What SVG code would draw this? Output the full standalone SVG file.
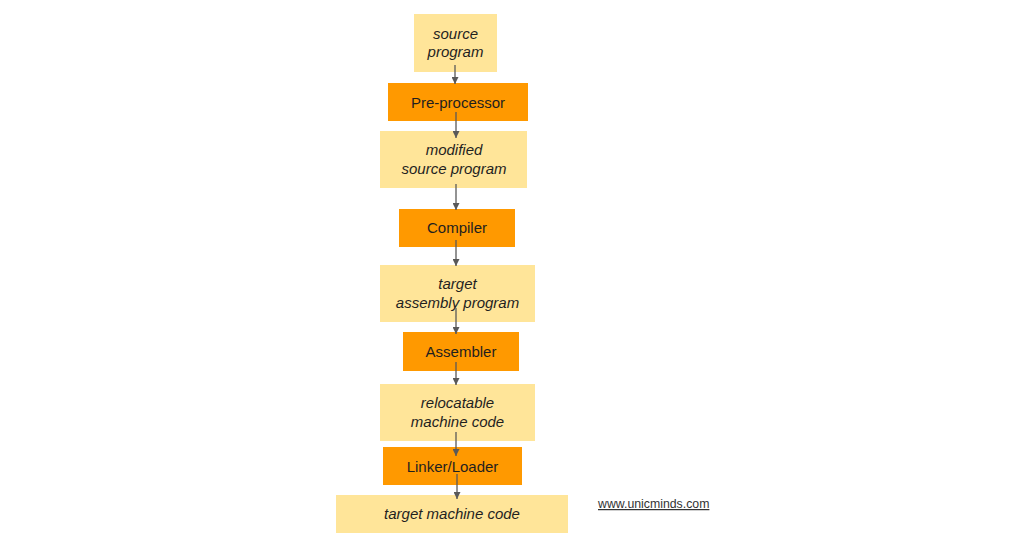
<svg xmlns="http://www.w3.org/2000/svg" width="1024" height="539" viewBox="0 0 1024 539">
<style>
.data{fill:#ffe599}
.proc{fill:#ff9900}
text{font-family:"Liberation Sans",Arial,sans-serif;font-size:15px;fill:#1f1f1f;text-anchor:middle}
.it{font-style:italic}
.edge{stroke:#595959;stroke-width:1.3;fill:none;marker-end:url(#ah)}
.url{font-size:12.3px;text-anchor:start;fill:#333;text-decoration:underline}
</style>
<defs>
<marker id="ah" viewBox="0 0 10 10" refX="10" refY="5" markerWidth="7" markerHeight="7" markerUnits="userSpaceOnUse" orient="auto">
<path d="M0,0 L10,5 L0,10 z" fill="#595959"/>
</marker>
</defs>
<rect width="1024" height="539" fill="#ffffff"/>
<g id="source-program"><rect class="data" x="414" y="14" width="83" height="58"/><text class="it" x="455.5" y="39">source</text><text class="it" x="455.5" y="57">program</text></g>
<g id="pre-processor"><rect class="proc" x="388" y="83" width="140" height="38"/><text x="458" y="108">Pre-processor</text></g>
<g id="modified-source"><rect class="data" x="380" y="131" width="147" height="57"/><text class="it" x="454" y="155">modified</text><text class="it" x="454" y="174">source program</text></g>
<g id="compiler"><rect class="proc" x="399" y="209" width="116" height="38"/><text x="457" y="233">Compiler</text></g>
<g id="target-assembly"><rect class="data" x="380" y="265" width="155" height="57"/><text class="it" x="457.5" y="289">target</text><text class="it" x="457.5" y="308">assembly program</text></g>
<g id="assembler"><rect class="proc" x="403" y="332" width="116" height="39"/><text x="461" y="357">Assembler</text></g>
<g id="relocatable"><rect class="data" x="380" y="384" width="155" height="57"/><text class="it" x="457.5" y="408">relocatable</text><text class="it" x="457.5" y="427">machine code</text></g>
<g id="linker-loader"><rect class="proc" x="383" y="447" width="139" height="38"/><text x="452.5" y="472">Linker/Loader</text></g>
<g id="target-machine"><rect class="data" x="336" y="495" width="232" height="38"/><text class="it" x="452" y="519">target machine code</text></g>
<g id="connectors">
<path class="edge" d="M455,65 L455,84"/>
<path class="edge" d="M456,112 L456,138"/>
<path class="edge" d="M456,184 L456,210"/>
<path class="edge" d="M456,240 L456,266"/>
<path class="edge" d="M456,308 L456,334"/>
<path class="edge" d="M456,362 L456,385"/>
<path class="edge" d="M456,432 L456,456"/>
<path class="edge" d="M457,474 L457,499"/>
</g>
<text class="url" x="598" y="508">www.unicminds.com</text>
</svg>
